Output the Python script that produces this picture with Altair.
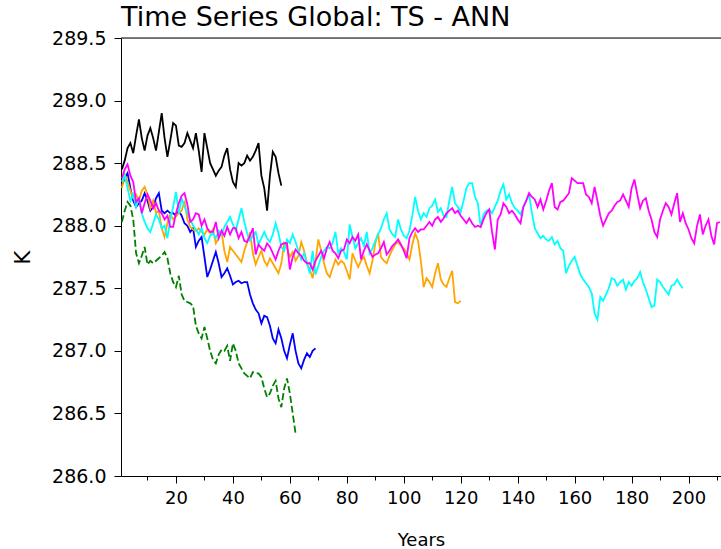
import altair as alt
import pandas as pd

# ---- data (annual global mean TS, K) ----
black = [288.45, 288.52, 288.62, 288.66, 288.58, 288.72, 288.85, 288.70, 288.60, 288.72,
         288.78, 288.70, 288.60, 288.75, 288.90, 288.70, 288.55, 288.68, 288.82, 288.80,
         288.64, 288.63, 288.66, 288.74, 288.68, 288.62, 288.74, 288.60, 288.43, 288.74,
         288.62, 288.50, 288.45, 288.40, 288.44, 288.47, 288.56, 288.62, 288.45, 288.35,
         288.31, 288.50, 288.48, 288.50, 288.56, 288.52, 288.55, 288.60, 288.66, 288.40,
         288.30, 288.12, 288.40, 288.59, 288.55, 288.42, 288.32]

blue = [288.32, 288.38, 288.42, 288.30, 288.20, 288.15, 288.18, 288.20, 288.26, 288.20,
        288.12, 288.15, 288.22, 288.26, 288.12, 288.10, 288.12, 288.10, 288.10, 288.08,
        288.12, 288.08, 288.02, 288.00, 287.95, 287.98, 287.83, 287.88, 287.91, 287.75,
        287.59, 287.65, 287.72, 287.79, 287.70, 287.59, 287.62, 287.66, 287.60, 287.53,
        287.55, 287.56, 287.54, 287.55, 287.55, 287.45, 287.38, 287.33, 287.30, 287.22,
        287.28, 287.27, 287.20, 287.10, 287.06, 287.17, 287.10, 287.00, 286.94, 287.05,
        287.14, 287.00, 286.90, 286.86, 286.93, 286.98, 286.95, 287.00, 287.02]

green = [288.03, 288.12, 288.19, 288.16, 288.05, 287.78, 287.70, 287.76, 287.83, 287.69,
         287.72, 287.70, 287.72, 287.74, 287.76, 287.79, 287.74, 287.62, 287.55, 287.51,
         287.60, 287.45, 287.40, 287.39, 287.38, 287.36, 287.20, 287.14, 287.10, 287.19,
         287.10, 287.00, 286.93, 286.90, 286.97, 287.01, 287.00, 287.04, 286.92, 287.06,
         287.00, 286.90, 286.86, 286.82, 286.80, 286.78, 286.83, 286.82, 286.82, 286.79,
         286.70, 286.63, 286.66, 286.72, 286.76, 286.62, 286.55, 286.70, 286.78, 286.66,
         286.50, 286.34]

orange = [288.30, 288.41, 288.35, 288.28, 288.22, 288.25, 288.20, 288.28, 288.31, 288.25,
          288.14, 288.20, 288.10, 288.12, 287.98, 287.91, 288.02, 288.09, 288.05, 288.08,
          288.10, 288.12, 288.20, 288.05, 287.99, 287.97, 287.96, 287.98, 287.95, 287.93,
          287.97, 287.94, 287.97, 287.86, 287.90, 287.95, 287.80, 287.71, 287.83, 287.80,
          287.77, 287.74, 287.71, 287.80, 287.87, 287.95, 287.78, 287.69, 287.75, 287.80,
          287.72, 287.68, 287.74, 287.70, 287.66, 287.62, 287.70, 287.86, 287.82, 287.75,
          287.79, 287.72, 287.76, 287.87, 287.80, 287.70, 287.65, 287.58, 287.72, 287.89,
          287.80, 287.70, 287.62, 287.59, 287.66, 287.73, 287.69, 287.72, 287.70, 287.64,
          287.57, 287.78, 287.72, 287.67, 287.72, 287.75, 287.68, 287.62, 287.72, 287.86,
          287.94, 287.75, 287.72, 287.70, 287.76, 287.81, 287.85, 287.87, 287.84, 287.82,
          287.78, 287.73, 287.85, 287.94, 287.88, 287.72, 287.51, 287.58, 287.55, 287.51,
          287.62, 287.70, 287.57, 287.53, 287.51, 287.58, 287.64, 287.39, 287.38, 287.40]

cyan = [288.35, 288.40, 288.30, 288.20, 288.25, 288.15, 288.22, 288.10, 288.03, 287.98,
        287.95, 288.02, 288.09, 288.05, 287.98, 288.00, 287.90, 288.05, 288.15, 288.27,
        288.10, 288.22, 288.15, 288.10, 288.05, 288.00, 287.97, 287.93, 287.98, 287.90,
        287.86, 287.92, 287.94, 287.90, 287.96, 287.93, 287.99, 288.03, 288.07, 288.01,
        287.96, 288.05, 288.14, 288.03, 287.94, 287.88, 287.92, 287.95, 287.85, 287.90,
        287.95, 287.90, 287.87, 287.93, 288.02, 287.94, 287.83, 287.80, 287.89, 287.86,
        287.93, 287.87, 287.80, 287.73, 287.78, 287.70, 287.62, 287.80, 287.61, 287.68,
        287.75, 287.80, 287.83, 287.82, 287.86, 287.95, 287.78, 287.82, 287.79, 287.73,
        288.01, 287.91, 287.82, 287.86, 287.90, 287.84, 287.95, 287.78, 287.82, 287.88,
        287.93, 287.98, 288.05, 288.10, 287.97, 287.93, 287.91, 288.05, 287.97, 287.92,
        287.90, 287.96, 288.08, 288.23, 288.12, 288.05, 288.10, 288.07, 288.14, 288.16,
        288.21, 288.11, 288.14, 288.08, 288.07, 288.20, 288.31, 288.18, 288.15, 288.11,
        288.20, 288.30, 288.34, 288.34, 288.23, 288.18, 287.99, 288.09, 288.12, 288.13,
        288.10, 288.15, 288.20, 288.28, 288.33, 288.21, 288.25, 288.18, 288.14, 288.12,
        288.09, 288.15, 288.20, 288.25, 288.10, 287.98, 287.94, 287.90, 287.92, 287.89,
        287.88, 287.91, 287.85, 287.88, 287.82, 287.80, 287.62, 287.68, 287.72, 287.75,
        287.68, 287.61, 287.57, 287.54, 287.51, 287.46, 287.30, 287.25, 287.43, 287.40,
        287.45, 287.50, 287.58, 287.57, 287.52, 287.55, 287.57, 287.49, 287.55, 287.52,
        287.56, 287.58, 287.63, 287.55, 287.49, 287.42, 287.35, 287.36, 287.57, 287.55,
        287.51, 287.48, 287.45, 287.52, 287.53, 287.57, 287.53, 287.50]

magenta = [288.38, 288.45, 288.49, 288.40, 288.35, 288.19, 288.22, 288.10, 288.18, 288.25,
           288.20, 288.14, 288.18, 288.12, 288.10, 288.05, 288.08, 287.99, 287.99, 288.10,
           288.18, 288.24, 288.26, 288.17, 288.03, 288.05, 288.10, 288.09, 288.00, 288.05,
           287.98, 287.95, 287.95, 288.03, 287.90, 287.96, 287.92, 287.99, 287.93, 287.98,
           287.98, 287.90, 287.95, 287.88, 287.87, 287.92, 287.98, 287.77, 287.85, 287.82,
           287.80, 287.86, 287.83, 287.78, 287.73, 287.80, 287.85, 287.86, 287.86, 287.65,
           287.75, 287.81, 287.78, 287.76, 287.72, 287.70, 287.70, 287.65, 287.72, 287.76,
           287.80, 287.74, 287.82, 287.87, 287.80, 287.78, 287.74, 287.80, 287.81, 287.89,
           287.86, 287.91, 287.88, 287.93, 287.73, 287.80, 287.85, 287.80, 287.75, 287.77,
           287.78, 287.82, 287.87, 287.77, 287.80, 287.84, 287.86, 287.89, 287.85, 287.80,
           287.74, 287.90, 287.95, 287.98, 287.95, 287.97, 287.97, 288.00, 288.03, 288.00,
           288.05, 288.07, 288.03, 288.06, 288.10, 288.12, 288.14, 288.10, 288.12, 288.08,
           288.05, 288.02, 288.06, 288.02, 287.99, 288.00, 287.99, 288.05, 288.10, 288.13,
           287.95, 287.81, 288.05, 288.09, 288.18, 288.15, 288.10, 288.12, 288.09, 288.05,
           288.02, 288.15, 288.20, 288.26, 288.23, 288.21, 288.15, 288.21, 288.13, 288.20,
           288.28, 288.34, 288.15, 288.13, 288.19, 288.20, 288.23, 288.26, 288.38, 288.36,
           288.34, 288.34, 288.34, 288.25, 288.23, 288.18, 288.31, 288.20, 288.08, 288.00,
           288.05, 288.10, 288.12, 288.16, 288.19, 288.20, 288.25, 288.20, 288.15, 288.30,
           288.37, 288.25, 288.14, 288.20, 288.22, 288.12, 288.05, 287.95, 287.91, 288.05,
           288.12, 288.18, 288.15, 288.09, 288.18, 288.26, 288.03, 288.10, 288.02, 287.97,
           287.90, 287.86, 288.00, 288.09, 287.93, 288.00, 288.05, 287.92, 287.85, 288.02,
           288.03]

x_ticks = list(range(10, 211, 10))
y_ticks = [286.0, 286.5, 287.0, 287.5, 288.0, 288.5, 289.0, 289.5]
x_domain = [0.7, 211.4]
y_domain = [286.0, 289.5]

FONT = "DejaVu Sans"

x_scale = alt.Scale(domain=x_domain, nice=False, zero=False)
y_scale = alt.Scale(domain=y_domain, nice=False, zero=False)

x_axis = alt.Axis(
    values=x_ticks,
    labelExpr="datum.value % 20 === 0 ? datum.label : ''",
    tickSize={"condition": {"test": "datum.value % 20 === 0", "value": 7}, "value": 4},
    grid=False, domainColor="black", tickColor="black", labelColor="black",
    labelFont=FONT, labelFontSize=18, labelPadding=6, labelFlush=False,
    titleFont=FONT, titleFontSize=18, titleFontWeight="normal", titleColor="black",
    titlePadding=24,
)
y_axis = alt.Axis(
    values=y_ticks, format=".1f", tickSize=7,
    grid=False, domainColor="black", tickColor="black", labelColor="black",
    labelFont=FONT, labelFontSize=19, labelPadding=8,
    titleFont=FONT, titleFontSize=21, titleFontWeight="normal", titleColor="black",
    titlePadding=18,
)

series = [
    ("black", black, "black", None),
    ("blue", blue, "#0000ff", None),
    ("green", green, "#008000", [7, 3]),
    ("orange", orange, "#ffa500", None),
    ("cyan", cyan, "#00ffff", None),
    ("magenta", magenta, "#ff00ff", None),
]

layers = []
for name, vals, color, dash in series:
    df = pd.DataFrame({"year": list(range(1, len(vals) + 1)), "value": vals})
    kw = dict(color=color, strokeWidth=1.8, clip=True)
    if dash:
        kw["strokeDash"] = dash
    layers.append(
        alt.Chart(df).mark_line(**kw).encode(
            x=alt.X("year:Q", scale=x_scale, axis=x_axis, title="Years"),
            y=alt.Y("value:Q", scale=y_scale, axis=y_axis, title="K"),
        )
    )

top_df = pd.DataFrame({"v": [y_domain[1]]})
top_border = alt.Chart(top_df).mark_rule(color="black", strokeWidth=1).encode(
    y=alt.Y("v:Q", scale=y_scale)
)

chart = alt.layer(*layers, top_border).properties(
    width=600,
    height=438,
    title=alt.TitleParams(
        "Time Series Global: TS - ANN", anchor="start", frame="group", font=FONT,
        fontSize=27, fontWeight="normal", color="black", offset=-3,
    ),
    autosize=alt.AutoSizeParams(type="none"),
    padding={"left": 121, "top": 38, "right": 0, "bottom": 73},
).configure_view(stroke=None).configure(background="white")

chart.save("out.html", embed_options={"renderer": "svg", "actions": False})
